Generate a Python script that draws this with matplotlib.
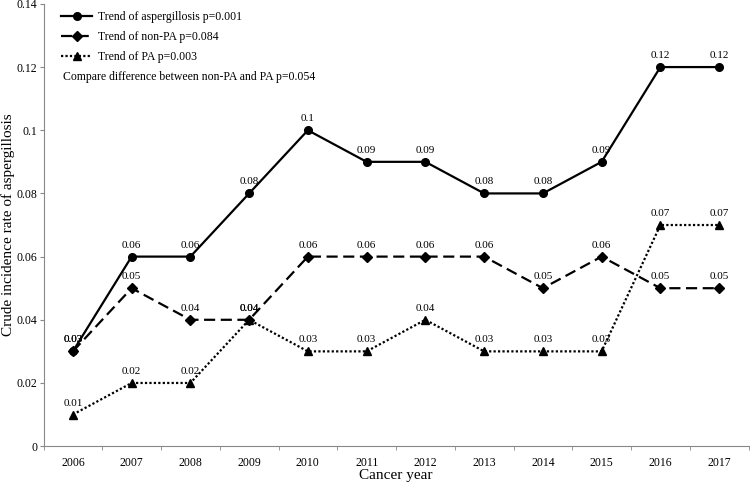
import numpy as np
import matplotlib.pyplot as plt

plt.rcParams['font.family'] = ['Liberation Serif', 'DejaVu Serif']

years = ['2006', '2007', '2008', '2009', '2010', '2011', '2012', '2013', '2014', '2015', '2016', '2017']
aspergillosis = [0.03, 0.06, 0.06, 0.08, 0.10, 0.09, 0.09, 0.08, 0.08, 0.09, 0.12, 0.12]
non_pa = [0.03, 0.05, 0.04, 0.04, 0.06, 0.06, 0.06, 0.06, 0.05, 0.06, 0.05, 0.05]
pa = [0.01, 0.02, 0.02, 0.04, 0.03, 0.03, 0.04, 0.03, 0.03, 0.03, 0.07, 0.07]

series = [
    (aspergillosis, 'Trend of aspergillosis p=0.001', '-', 'o', 5.5),
    (non_pa, 'Trend of non-PA p=0.084', (0, (5, 2.5)), 'D', 5),
    (pa, 'Trend of PA p=0.003', (0, (1, 1)), '^', 6),
]

fig = plt.figure(figsize=(7.5, 4.86), dpi=100)
ax = fig.add_axes([0.058, 0.082, 0.94, 0.91])

x = np.arange(len(years))
for vals, label, ls, mk, ms in series:
    ax.plot(x, vals, color='black', linestyle=ls, linewidth=1.6,
            marker=mk, markersize=ms, label=label)
    for xi, v in zip(x, vals):
        ax.annotate(f'{v:g}', (xi, v), xytext=(0, 5), textcoords='offset points',
                    ha='center', va='bottom', fontsize=8)

ax.set_xlim(-0.5, len(years) - 0.5)
ax.set_ylim(0, 0.14)
ax.set_yticks(np.arange(0, 0.141, 0.02))
ax.set_yticklabels(['0'] + [f'{t:g}' for t in np.arange(0.02, 0.141, 0.02)], fontsize=8.5)
ax.set_xticks(x)
ax.set_xticklabels(years, fontsize=8.5)
ax.set_xticks(np.arange(-0.5, len(years), 1), minor=True)
ax.tick_params(axis='x', which='major', length=0, pad=8)
ax.tick_params(axis='x', which='minor', length=3, color='#888888')
ax.tick_params(axis='y', length=3, pad=1.5, color='#888888')

for side in ['top', 'right']:
    ax.spines[side].set_visible(False)
for side in ['left', 'bottom']:
    ax.spines[side].set_color('#888888')

ax.set_xlabel('Cancer year', fontsize=11)
ax.set_ylabel('Crude incidence rate of aspergillosis', fontsize=11)
ax.xaxis.set_label_coords(0.5, -0.052)
ax.yaxis.set_label_coords(-0.041, 0.5)

ax.legend(loc='upper left', bbox_to_anchor=(0.015, 1.0), frameon=False, fontsize=8.5,
          handlelength=2.6, handletextpad=0.5, labelspacing=0.7, borderaxespad=0.2)
ax.text(0.028, 0.835, 'Compare difference between non-PA and PA p=0.054',
        transform=ax.transAxes, fontsize=8.5, va='center', ha='left')

plt.savefig('out.png', dpi=100)
